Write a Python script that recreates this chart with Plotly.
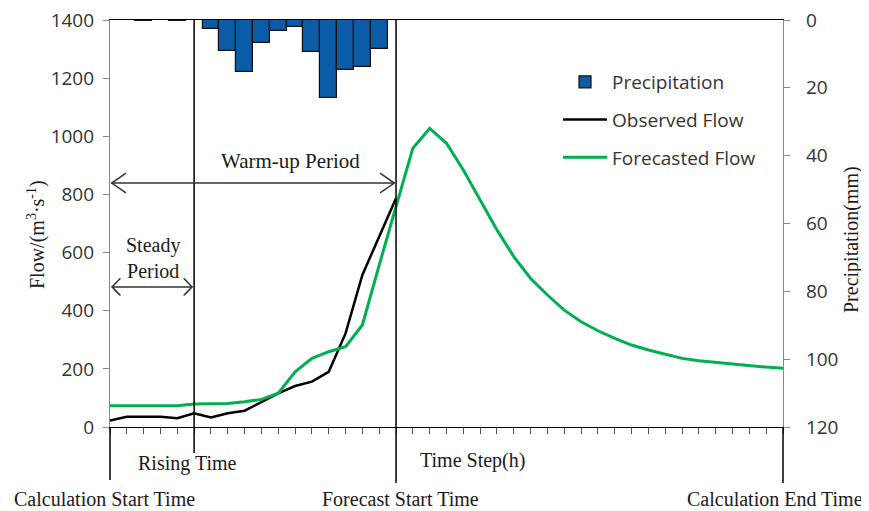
import plotly.graph_objects as go

# ---------------- data ----------------
steps = list(range(0, 41))
obs_steps = list(range(0, 18))
observed_flow = [22, 35, 35, 35, 30, 47, 33, 47, 56, 87, 116, 141, 156, 190, 322, 523, 655, 787]
forecast_flow = [73, 73, 73, 73, 73, 79, 81, 81, 87, 95, 116, 190, 236, 259, 276, 351, 557, 762,
                 959, 1027, 976, 884, 781, 678, 586, 511, 454, 402, 362, 331, 305, 282, 265, 250,
                 236, 228, 222, 217, 211, 206, 202]
precip_steps = [2, 4, 6, 7, 8, 9, 10, 11, 12, 13, 14, 15, 16]
precipitation = [0.4, 0.4, 2.7, 9.1, 15.2, 6.7, 3.2, 2.1, 9.4, 22.9, 14.8, 13.8, 8.6]

flow_ticks = [0, 200, 400, 600, 800, 1000, 1200, 1400]
precip_ticks = [0, 20, 40, 60, 80, 100, 120]

X_MIN, X_MAX = 0, 40
CALC_START, RISING, FORECAST_START, CALC_END = 0, 5, 17, 40
WARMUP_Y = 839
STEADY_Y = 482

SERIF = "Liberation Serif, Times New Roman, serif"
SANS = "Open Sans, sans-serif"

# page offset of the figure (browser body margin)
OFF = 8
W, H = 869 - OFF, 511 - OFF
PL, PR, PT, PB = 110 - OFF, 86, 20 - OFF, 84
pw, ph = W - PL - PR, H - PT - PB


def xd(s):
    return (s - X_MIN) / (X_MAX - X_MIN)


def px_x(px):
    return (px - OFF - PL) / pw


def px_y(py):
    return (PT + ph - (py - OFF)) / ph


fig = go.Figure()
fig.add_trace(go.Bar(
    x=precip_steps, y=precipitation, width=1, name="Precipitation", yaxis="y2",
    marker=dict(color="#0B5BA6", line=dict(color="#111111", width=1.2)),
    legendgroup="p"))
fig.add_trace(go.Scatter(
    x=obs_steps, y=observed_flow, mode="lines", name="Observed Flow",
    line=dict(color="#000000", width=2.5), legendgroup="o"))
fig.add_trace(go.Scatter(
    x=steps, y=forecast_flow, mode="lines", name="Forecasted Flow",
    line=dict(color="#00B050", width=3), legendgroup="f"))

shapes = []
line_style = dict(color="#000000", width=1.5)
# vertical guide lines
shapes.append(dict(type="line", xref="x domain", yref="paper", x0=xd(RISING), x1=xd(RISING),
                   y0=1, y1=px_y(453), line=line_style))
shapes.append(dict(type="line", xref="x domain", yref="paper", x0=xd(FORECAST_START), x1=xd(FORECAST_START),
                   y0=1, y1=px_y(483), line=line_style))
shapes.append(dict(type="line", xref="x domain", yref="paper", x0=xd(CALC_START), x1=xd(CALC_START),
                   y0=0, y1=px_y(480), line=line_style))
shapes.append(dict(type="line", xref="x domain", yref="paper", x0=xd(CALC_END), x1=xd(CALC_END),
                   y0=0, y1=px_y(483), line=line_style))

arrow_style = dict(color="#333333", width=1.5)
# warm-up double arrow
shapes.append(dict(type="line", xref="x", yref="y", x0=0.1, x1=FORECAST_START - 0.1,
                   y0=WARMUP_Y, y1=WARMUP_Y, line=arrow_style))
shapes.append(dict(type="path", xref="x", yref="y",
                   path=f"M {0.1 + 0.85},{WARMUP_Y + 34} L 0.1,{WARMUP_Y} L {0.1 + 0.85},{WARMUP_Y - 34}",
                   line=arrow_style))
fs = FORECAST_START - 0.1
shapes.append(dict(type="path", xref="x", yref="y",
                   path=f"M {fs - 0.85},{WARMUP_Y + 34} L {fs},{WARMUP_Y} L {fs - 0.85},{WARMUP_Y - 34}",
                   line=arrow_style))
# steady double arrow
shapes.append(dict(type="line", xref="x", yref="y", x0=0.12, x1=RISING - 0.12,
                   y0=STEADY_Y, y1=STEADY_Y, line=arrow_style))
shapes.append(dict(type="path", xref="x", yref="y",
                   path=f"M {0.12 + 0.5},{STEADY_Y + 30} Q {0.2},{STEADY_Y + 5} 0.12,{STEADY_Y} Q {0.2},{STEADY_Y - 5} {0.12 + 0.5},{STEADY_Y - 30}",
                   line=arrow_style))
rs = RISING - 0.12
shapes.append(dict(type="path", xref="x", yref="y",
                   path=f"M {rs - 0.5},{STEADY_Y + 30} Q {rs - 0.08},{STEADY_Y + 5} {rs},{STEADY_Y} Q {rs - 0.08},{STEADY_Y - 5} {rs - 0.5},{STEADY_Y - 30}",
                   line=arrow_style))

txt = dict(family=SERIF, size=20, color="#1a1a1a")
txt21 = dict(family=SERIF, size=21, color="#1a1a1a")


def ann(text, x, y, font=txt, **kw):
    d = dict(text=text, x=x, y=y, xref="paper", yref="paper", showarrow=False, font=font,
             xanchor="center", yanchor="middle")
    d.update(kw)
    return d


annotations = [
    ann("Warm-up Period", px_x(290), px_y(161), font=txt21),
    ann("Steady<br>Period", px_x(153), px_y(258)),
    ann("Rising Time", px_x(187), px_y(463)),
    ann("Time Step(h)", px_x(472), px_y(460)),
    ann("Calculation Start Time", px_x(104), px_y(499)),
    ann("Forecast Start Time", px_x(400), px_y(499)),
    ann("Calculation End Time", px_x(775), px_y(499)),
    ann("Flow/(m<sup>3</sup>·s<sup>-1</sup>)", px_x(36), px_y(235), textangle=-90),
    ann("Precipitation(mm)", px_x(851), px_y(240), textangle=-90),
]

tickfont = dict(family=SANS, size=19, color="#333333")
fig.update_layout(
    width=W, height=H, margin=dict(l=PL, r=PR, t=PT, b=PB, autoexpand=False),
    paper_bgcolor="white", plot_bgcolor="white",
    showlegend=True,
    legend=dict(x=px_x(558), y=px_y(63), xanchor="left", yanchor="top", bgcolor="rgba(0,0,0,0)",
                font=dict(family=SANS, size=19, color="#333333"), itemwidth=44,
                tracegroupgap=10, traceorder="grouped"),
    bargap=0,
    xaxis=dict(range=[X_MIN, X_MAX], showgrid=False, zeroline=False, showline=True,
               linecolor="#000000", linewidth=1.2, mirror=True, ticks="outside", ticklen=6,
               tickcolor="#555555", dtick=1, tick0=0, showticklabels=False, automargin=False),
    yaxis=dict(range=[0, 1400], tickvals=flow_ticks, showgrid=False, zeroline=False,
               showline=True, linecolor="#888888", linewidth=1.2, ticks="outside", ticklen=6,
               tickcolor="#888888", tickfont=tickfont, ticklabelstandoff=5, automargin=False,
               ticklabeloverflow="allow"),
    yaxis2=dict(range=[120, 0], tickvals=precip_ticks, overlaying="y", side="right",
                showgrid=False, zeroline=False, showline=True, linecolor="#888888", linewidth=1.2,
                ticks="outside", ticklen=6, tickcolor="#888888", tickfont=tickfont,
                ticklabelstandoff=12, automargin=False, ticklabeloverflow="allow"),
    shapes=shapes, annotations=annotations,
)

fig.write_html("out.html")
